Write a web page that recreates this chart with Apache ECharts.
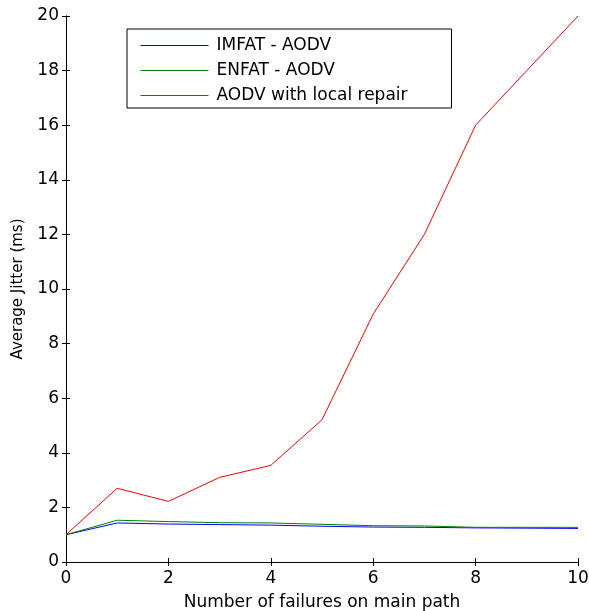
<!DOCTYPE html>
<html>
<head>
<meta charset="utf-8">
<script src="https://cdn.jsdelivr.net/npm/echarts@6/dist/echarts.min.js"></script>
<style>
  html, body { margin: 0; padding: 0; background: #fff; }
  #chart { width: 589px; height: 611px; }
</style>
</head>
<body>
<div id="chart"></div>
<script>
// failures on main path
const failures = [0, 1, 2, 3, 4, 5, 6, 7, 8, 9, 10]
// average jitter (ms)
const imfat = [1.0, 1.43, 1.39, 1.37, 1.35, 1.31, 1.28, 1.27, 1.25, 1.24, 1.23]
const enfat = [1.0, 1.53, 1.48, 1.44, 1.43, 1.38, 1.33, 1.32, 1.27, 1.27, 1.27]
const localRepair = [1.0, 2.7, 2.22, 3.1, 3.54, 5.21, 9.08, 12.0, 16.0, 18.0, 20.0]
const seriesNames = ['IMFAT - AODV', 'ENFAT - AODV', 'AODV with local repair']
const seriesColors = ['#0000ff', '#008000', '#ff0000']

const font = 'DejaVu Sans, sans-serif'
const chart = echarts.init(document.getElementById('chart'))

const pairs = arr => failures.map((x, i) => [x, arr[i]])

function boxAxis(extra) {
  return Object.assign({
    type: 'value',
    axisLine: { show: true, lineStyle: { color: '#000', width: 1 } },
    axisTick: { show: true, inside: true, length: 4, lineStyle: { color: '#000' } },
    splitLine: { show: false }
  }, extra)
}

chart.setOption({
  animation: false,
  backgroundColor: '#fff',
  grid: { left: 66, right: 11, top: 16, bottom: 49, outerBoundsMode: 'none' },
  legend: {
    orient: 'vertical',
    left: 127,
    top: 29,
    data: seriesNames,
    itemWidth: 68,
    itemHeight: 14,
    itemGap: 8,
    itemStyle: { opacity: 0 },
    lineStyle: { width: 1 },
    padding: [8, 44, 4, 13],
    borderColor: '#000',
    borderWidth: 1,
    backgroundColor: '#fff',
    textStyle: { fontFamily: font, fontSize: 17, color: '#000', padding: [0, 0, 0, 3] }
  },
  xAxis: [
    boxAxis({
      min: 0, max: 10, interval: 2,
      name: 'Number of failures on main path',
      nameLocation: 'middle',
      nameGap: 32,
      nameTextStyle: { fontFamily: font, fontSize: 17, color: '#000' },
      axisLabel: { fontFamily: font, fontSize: 17, color: '#000', margin: 8 }
    }),
    boxAxis({ min: 0, max: 10, interval: 2, position: 'top', axisLabel: { show: false } })
  ],
  yAxis: [
    boxAxis({
      min: 0, max: 20, interval: 2,
      name: 'Average Jitter (ms)',
      nameLocation: 'middle',
      nameGap: 40,
      nameTextStyle: { fontFamily: font, fontSize: 15, color: '#000' },
      axisLabel: { fontFamily: font, fontSize: 17, color: '#000', margin: 7 }
    }),
    boxAxis({ min: 0, max: 20, interval: 2, position: 'right', axisLabel: { show: false } })
  ],
  series: [imfat, enfat, localRepair].map((arr, i) => ({
    name: seriesNames[i],
    type: 'line',
    data: pairs(arr),
    symbol: 'none',
    color: seriesColors[i],
    lineStyle: { width: 1, color: seriesColors[i] }
  }))
})
</script>
</body>
</html>
